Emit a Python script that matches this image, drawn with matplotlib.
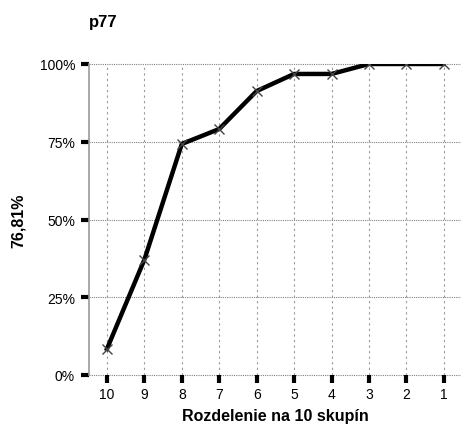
import numpy as np
import matplotlib.pyplot as plt
from matplotlib.ticker import PercentFormatter

# Data
skupiny = ['10', '9', '8', '7', '6', '5', '4', '3', '2', '1']
hodnoty = [0.084, 0.371, 0.743, 0.791, 0.913, 0.968, 0.968, 1.0, 1.0, 1.0]
y_ticks = [0, 0.25, 0.5, 0.75, 1.0]

plt.rcParams['font.family'] = ['Liberation Sans', 'DejaVu Sans']

fig = plt.figure(figsize=(4.61, 4.31), dpi=100)
ax = fig.add_axes([89 / 461, 1 - 376 / 431, 372 / 461, 311 / 431])

x = np.arange(len(skupiny))
ax.plot(x, hodnoty, color='black', linewidth=3.2, solid_joinstyle='miter', zorder=3)
ax.plot(x, hodnoty, linestyle='none', marker='x', markersize=7, markeredgewidth=1.0,
        color='#444444', zorder=4)

ax.set_xlim(-0.48, len(skupiny) - 1 + 0.46)
ax.set_ylim(0, 1.0)
ax.set_xticks(x)
ax.set_xticklabels(skupiny)
ax.set_yticks(y_ticks)
ax.yaxis.set_major_formatter(PercentFormatter(1.0, decimals=0))

# mriezka
for yv in y_ticks:
    ax.axhline(yv, color='#808080', linewidth=0.8, linestyle=(0, (1, 1)), zorder=1, clip_on=False)
for xv in x:
    ax.axvline(xv, color='#999999', linewidth=0.8, linestyle=(0, (2, 3)), zorder=1)

for s in ['top', 'right', 'bottom']:
    ax.spines[s].set_visible(False)
ax.spines['left'].set_color('#999999')
ax.spines['left'].set_linewidth(1.2)

ax.tick_params(axis='both', length=6, width=3, color='black', labelsize=10)
ax.tick_params(axis='x', pad=3)
ax.tick_params(axis='y', pad=4)

ax.set_xlabel('Rozdelenie na 10 skupín', fontsize=11.5, fontweight='bold', labelpad=5)
ax.set_ylabel('76,81%', fontsize=11.5, fontweight='bold', labelpad=10)
fig.text(89 / 461, 1 - 22 / 431, 'p77', fontsize=12, fontweight='bold', va='center', ha='left')

fig.savefig('out.png', dpi=100)
